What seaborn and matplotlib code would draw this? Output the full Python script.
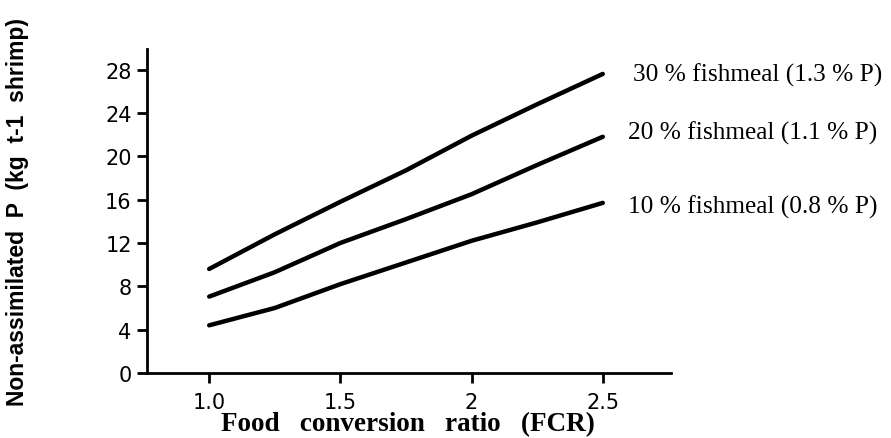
import matplotlib
matplotlib.use("Agg")
import matplotlib.pyplot as plt
import seaborn as sns
import pandas as pd

fcr = [1.0, 1.25, 1.5, 1.75, 2.0, 2.25, 2.5]
p30 = [9.6, 12.8, 15.8, 18.7, 21.9, 24.8, 27.6]
p20 = [7.05, 9.3, 12.0, 14.2, 16.5, 19.2, 21.8]
p10 = [4.4, 6.0, 8.2, 10.2, 12.2, 13.9, 15.7]
labels = ["30 % fishmeal (1.3 % P)", "20 % fishmeal (1.1 % P)", "10 % fishmeal (0.8 % P)"]
yticks = [0, 4, 8, 12, 16, 20, 24, 28]
xticks = [1.0, 1.5, 2.0, 2.5]
xticklabels = ["1.0", "1.5", "2", "2.5"]

sns.set_style("ticks")
plt.rcParams["text.color"] = "black"
plt.rcParams["xtick.color"] = "black"
plt.rcParams["ytick.color"] = "black"

df = pd.DataFrame({"FCR": fcr * 3,
                   "P": p30 + p20 + p10,
                   "series": [labels[0]] * 7 + [labels[1]] * 7 + [labels[2]] * 7})

fig = plt.figure(figsize=(8.91, 4.39), dpi=100)
ax = fig.add_axes([147/891, 1 - 374/439, (671-147)/891, (374-50)/439])
sns.lineplot(data=df, x="FCR", y="P", units="series", estimator=None,
             color="black", linewidth=3.2, ax=ax, legend=False)

ax.set_xlim(0.763, 2.76)
ax.set_ylim(0, 29.9)
ax.set_xticks(xticks)
ax.set_xticklabels(xticklabels, fontsize=15, family="DejaVu Sans")
ax.set_yticks(yticks)
ax.set_yticklabels([str(v) for v in yticks], fontsize=15, family="DejaVu Sans")
for s in ["top", "right"]:
    ax.spines[s].set_visible(False)
for s in ["left", "bottom"]:
    ax.spines[s].set_linewidth(2.0)
    ax.spines[s].set_color("black")
ax.tick_params(axis="both", direction="out", length=7, width=2, color="black",
               labelcolor="black")
ax.tick_params(axis="x", pad=7)
ax.tick_params(axis="y", pad=4)
ax.set_xlabel("")
ax.set_ylabel("")

fig.text((212+603)/2/891, 1 - 425/439, "Food   conversion   ratio   (FCR)",
         ha="center", va="center", fontsize=19.5, fontweight="bold",
         family="Liberation Serif", color="black")
fig.text(18/891, 1 - 212/439, "Non-assimilated  P  (kg  t-1  shrimp)",
         ha="center", va="center", rotation=90, fontsize=16.5, fontweight="bold",
         family="Liberation Sans", color="black")

for lab, ys, xp in zip(labels, [75, 133, 207], [633, 628, 628]):
    fig.text(xp/891, 1 - ys/439, lab, ha="left", va="center", fontsize=18.3,
             family="Liberation Serif", color="black")

fig.savefig("out.png", dpi=100, facecolor="white")
